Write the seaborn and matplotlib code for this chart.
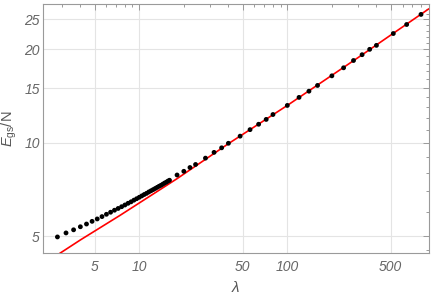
import matplotlib
matplotlib.use("Agg")
import matplotlib.pyplot as plt
import matplotlib.ticker as mticker
import seaborn as sns
import pandas as pd

# ---- data ----
lam = [2.8, 3.2, 3.6, 4.0, 4.4, 4.8, 5.2, 5.6, 6.0, 6.4, 6.8, 7.2, 7.6, 8.0, 8.4,
       8.8, 9.2, 9.6, 10.0, 10.4, 10.8, 11.2, 11.6, 12.0, 12.4, 12.8, 13.2, 13.6,
       14.0, 14.4, 14.8, 15.2, 15.6, 16.0, 18, 20, 22, 24, 28, 32, 36, 40, 48, 56,
       64, 72, 80, 100, 120, 140, 160, 200, 240, 280, 320, 360, 400, 520, 640, 800]
egs = [4.97, 5.12, 5.24, 5.36, 5.47, 5.58, 5.68, 5.78, 5.88, 5.97, 6.06, 6.14, 6.22,
       6.30, 6.38, 6.45, 6.53, 6.60, 6.67, 6.74, 6.81, 6.87, 6.94, 7.00, 7.06, 7.12,
       7.18, 7.24, 7.29, 7.35, 7.41, 7.46, 7.52, 7.57, 7.87, 8.09, 8.32, 8.51, 8.92,
       9.31, 9.63, 9.96, 10.5, 11.02, 11.47, 11.89, 12.33, 13.19, 14.0, 14.66, 15.3,
       16.43, 17.44, 18.41, 19.22, 20.0, 20.6, 22.49, 24.05, 25.92]

fit_lam = [2.8, 4.0, 7.4, 18, 40, 100, 300, 902]
fit_e = [4.35, 4.86, 5.83, 7.66, 9.93, 13.19, 18.8, 27.0]

x_ticks = [5, 10, 50, 100, 500]
y_ticks = [5, 10, 15, 20, 25]

pts = pd.DataFrame({"lam": lam, "E": egs})
fit = pd.DataFrame({"lam": fit_lam, "E": fit_e})

sns.set_style("white")
plt.rcParams["font.family"] = ["Liberation Sans", "DejaVu Sans"]
plt.rcParams["mathtext.fontset"] = "custom"
plt.rcParams["mathtext.it"] = "Liberation Sans:italic"
plt.rcParams["mathtext.rm"] = "Liberation Sans"

fig = plt.figure(figsize=(4.32, 2.97), dpi=100)
ax = fig.add_axes([0.0984, 0.148, 0.894, 0.8385])

ax.set_xscale("log")
ax.set_yscale("log")

sns.lineplot(data=fit, x="lam", y="E", ax=ax, color="#ff0000", linewidth=1.2,
             estimator=None, sort=False, zorder=3)
sns.scatterplot(data=pts, x="lam", y="E", ax=ax, color="black", s=12,
                edgecolor="none", zorder=4)

ax.set_xlim(2.22, 902)
ax.set_ylim(4.41, 28.0)

ax.xaxis.set_major_locator(mticker.FixedLocator(x_ticks))
ax.xaxis.set_major_formatter(mticker.FixedFormatter([str(v) for v in x_ticks]))
ax.xaxis.set_minor_locator(mticker.LogLocator(base=10, subs=range(2, 10), numticks=20))
ax.xaxis.set_minor_formatter(mticker.NullFormatter())

ax.yaxis.set_major_locator(mticker.FixedLocator(y_ticks))
ax.yaxis.set_major_formatter(mticker.FixedFormatter([str(v) for v in y_ticks]))
ax.yaxis.set_minor_locator(mticker.FixedLocator([4.5] + [v for v in range(6, 29) if v % 5 != 0]))
ax.yaxis.set_minor_formatter(mticker.NullFormatter())

ax.grid(True, which="major", color="#e4e4e4", linewidth=0.8)
ax.set_axisbelow(True)

for sp in ax.spines.values():
    sp.set_color("#9a9a9a")
    sp.set_linewidth(0.8)

ax.tick_params(which="both", direction="in", top=True, right=True, color="#9a9a9a",
               labelcolor="#666666", labelsize=10, width=0.7)
ax.tick_params(which="major", length=4.5)
ax.tick_params(axis="x", which="major", pad=5)
ax.tick_params(axis="y", which="major", pad=2)
ax.tick_params(which="minor", length=2.5)
for lbl in ax.get_xticklabels() + ax.get_yticklabels():
    lbl.set_fontstyle("italic")

ax.set_xlabel(r"$\lambda$", fontsize=11, color="#555555", labelpad=4)
ax.set_ylabel(r"$\mathit{E}_{\mathrm{gs}}\mathrm{/N}$", fontsize=10.5, color="#555555")
ax.yaxis.set_label_coords(-0.062, 0.5)

fig.savefig("out.png", dpi=100)
